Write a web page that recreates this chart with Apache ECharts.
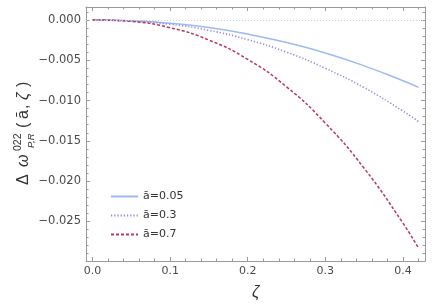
<!DOCTYPE html>
<html><head><meta charset="utf-8">
<script src="https://cdn.jsdelivr.net/npm/echarts@6/dist/echarts.min.js"></script>
<style>html,body{margin:0;padding:0;background:#fff}#c{width:436px;height:305px}</style>
</head><body><div id="c"></div>
<script>
// data
const zeta = [0, 0.05, 0.1, 0.15, 0.2, 0.25, 0.3, 0.35, 0.4, 0.42];
const a005 = [0, -0.0001, -0.00041, -0.00095, -0.00176, -0.0028, -0.0041, -0.0057, -0.00754, -0.00835];
const a03  = [0, -0.00012, -0.00054, -0.0013, -0.00245, -0.004, -0.006, -0.0084, -0.0113, -0.0126];
const a07  = [0, -0.00019, -0.00097, -0.0025, -0.0049, -0.0083, -0.0128, -0.0184, -0.0252, -0.0283];
const seriesNames = ['ā=0.05', 'ā=0.3', 'ā=0.7'];
const xTicks = [0, 0.1, 0.2, 0.3, 0.4];
const yTicks = [0, -0.005, -0.01, -0.015, -0.02, -0.025];
const xMinor = [0.02,0.04,0.06,0.08,0.12,0.14,0.16,0.18,0.22,0.24,0.26,0.28,0.32,0.34,0.36,0.38,0.42];
const yMinor = [0.001,-0.001,-0.002,-0.003,-0.004,-0.006,-0.007,-0.008,-0.009,-0.011,-0.012,-0.013,-0.014,-0.016,-0.017,-0.018,-0.019,-0.021,-0.022,-0.023,-0.024,-0.026,-0.027,-0.028,-0.029];

const X_MIN = -0.0084, X_MAX = 0.4284, Y_MIN = -0.0299, Y_MAX = 0.0016;
const frame = '#9a9a9a';
const labelColor = '#4a4a4a';
const font = 'DejaVu Sans';
const titleFont = 'Liberation Sans';

function pairs(ys){ return zeta.map((z,i)=>[z, ys[i]]); }

function xAxisDef(pos, ticks, len, showLabel, showLine){
  return {
    type:'value', position:pos, min:X_MIN, max:X_MAX,
    axisLine:{show:showLine, onZero:false, lineStyle:{color:frame, width:1}},
    splitLine:{show:false},
    axisTick:{show:true, inside:true, length:len, customValues:ticks, lineStyle:{color:frame}},
    axisLabel:{show:showLabel, customValues:ticks, color:labelColor, fontFamily:font, fontSize:11, margin:5,
      formatter:v=>v.toFixed(1)}
  };
}
function yAxisDef(pos, ticks, len, showLabel, showLine){
  return {
    type:'value', position:pos, min:Y_MIN, max:Y_MAX,
    axisLine:{show:showLine, onZero:false, lineStyle:{color:frame, width:1}},
    splitLine:{show:false},
    axisTick:{show:true, inside:true, length:len, customValues:ticks, lineStyle:{color:frame}},
    axisLabel:{show:showLabel, customValues:ticks, color:labelColor, fontFamily:font, fontSize:11.5, margin:5,
      formatter:v=> Math.abs(v)<1e-9 ? '0.000' : '\u2212' + Math.abs(v).toFixed(3)}
  };
}

const chart = echarts.init(document.getElementById('c'), null, {renderer:'canvas'});
const T = (x, y, text, f, extra) => ({type:'text', x:x, y:y,
  style:Object.assign({text:text, font:f, fill:'#333', textVerticalAlign:'middle'}, extra||{})});
chart.setOption({
  animation:false,
  backgroundColor:'#fff',
  grid:{left:86, right:11, top:7, bottom:44, containLabel:false},
  xAxis:[
    xAxisDef('bottom', xTicks, 4, true, true),
    xAxisDef('bottom', xMinor, 2.5, false, false),
    xAxisDef('top', xTicks, 4, false, true),
    xAxisDef('top', xMinor, 2.5, false, false)
  ],
  yAxis:[
    yAxisDef('left', yTicks, 4, true, true),
    yAxisDef('left', yMinor, 2.5, false, false),
    yAxisDef('right', yTicks, 4, false, true),
    yAxisDef('right', yMinor, 2.5, false, false)
  ],
  legend:{
    orient:'vertical', left:110, top:191, padding:0, itemWidth:27, itemHeight:12, itemGap:8,
    itemStyle:{opacity:0},
    textStyle:{color:'#333', fontFamily:font, fontSize:11},
    data:seriesNames
  },
  series:[
    {name:seriesNames[0], type:'line', data:pairs(a005), smooth:true, showSymbol:false, symbol:'none',
     lineStyle:{color:'#9dbaf4', width:1.5, type:'solid'}, itemStyle:{color:'#9dbaf4'},
     markLine:{silent:true, symbol:'none', label:{show:false}, lineStyle:{color:'#cfcfcf', type:[1,2], width:1},
       data:[{yAxis:0}]}},
    {name:seriesNames[1], type:'line', data:pairs(a03), smooth:true, showSymbol:false, symbol:'none',
     lineStyle:{color:'#8a8ae0', width:1.6, type:[1.2,2]}, itemStyle:{color:'#8a8ae0'}},
    {name:seriesNames[2], type:'line', data:pairs(a07), smooth:true, showSymbol:false, symbol:'none',
     lineStyle:{color:'#b9375f', width:1.5, type:[3,2]}, itemStyle:{color:'#b9375f'}}
  ],
  graphic:[
    {type:'text', left:252, top:285, style:{text:'ζ', font:'italic 16px '+titleFont, fill:'#333'}},
    {type:'group', x:24, y:185, rotation:Math.PI/2, children:[
      T(0, 0, 'Δ', '16px '+titleFont),
      T(18, 0, 'ω', 'italic 16px '+titleFont),
      T(34, -6, '022', '10.5px '+titleFont),
      T(37, 7, 'P,R', 'italic 9.5px '+titleFont),
      T(57, 0, '(', '16px '+titleFont),
      T(66, 0, 'ā', '16px '+titleFont),
      T(76, 0, ',', '16px '+titleFont),
      T(85, 0, 'ζ', 'italic 16px '+titleFont),
      T(98, 0, ')', '16px '+titleFont)
    ]}
  ]
});
</script></body></html>
